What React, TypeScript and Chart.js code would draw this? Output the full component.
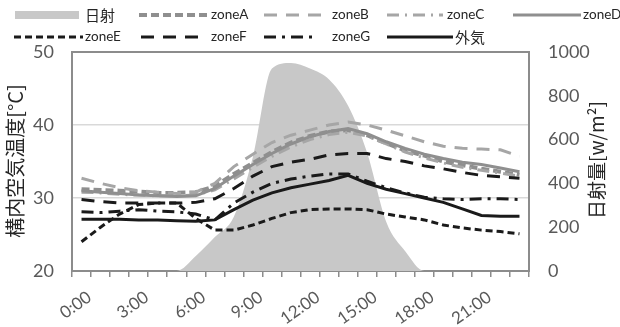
import React, { useEffect, useRef } from 'react';
import { Chart, registerables } from 'chart.js';

Chart.register(...registerables);

const hours = ['0:00','1:00','2:00','3:00','4:00','5:00','6:00','7:00','8:00','9:00','10:00','11:00','12:00','13:00','14:00','15:00','16:00','17:00','18:00','19:00','20:00','21:00','22:00','23:00'];
const solar = [0,0,0,0,0,0,68,155,248,520,925,950,925,875,755,540,225,90,0,0,0,0,0,0];
const zoneA = [31.2,31.1,31.0,30.9,30.7,30.7,30.8,31.6,33.3,34.8,36.3,37.6,38.5,39.1,39.3,38.6,37.5,36.5,35.8,35.0,34.5,34.0,33.6,33.2];
const zoneB = [32.7,32.0,31.4,31.0,30.8,30.6,30.8,32.0,34.3,36.0,37.6,38.6,39.3,40.0,40.4,40.0,39.3,38.5,37.7,37.1,36.8,36.7,36.6,35.7];
const zoneC = [30.8,30.7,30.5,30.4,30.3,30.3,30.4,31.1,32.6,34.2,35.7,37.0,38.0,38.7,39.0,38.5,37.4,36.3,35.5,34.8,34.2,33.8,33.4,33.0];
const zoneD = [31.0,30.8,30.6,30.4,30.3,30.2,30.3,31.3,33.0,34.6,36.1,37.4,38.4,39.1,39.5,38.8,37.7,36.8,36.0,35.4,34.9,34.6,34.1,33.6];
const zoneE = [24.0,26.0,27.8,29.1,29.3,29.3,27.2,25.6,25.6,26.3,27.2,28.0,28.4,28.5,28.5,28.4,27.8,27.4,27.0,26.3,25.9,25.6,25.4,25.1];
const zoneF = [29.8,29.5,29.3,29.3,29.3,29.3,29.4,29.9,31.3,33.0,34.3,34.9,35.3,35.9,36.1,36.1,35.4,35.0,34.4,34.0,33.5,33.1,32.9,32.7];
const zoneG = [28.1,28.0,28.2,28.4,28.2,28.1,27.8,27.0,29.3,30.8,32.0,32.6,33.0,33.3,33.3,32.3,31.4,30.7,30.1,29.9,29.8,29.9,29.9,29.8];
const outside = [27.1,27.1,27.1,27.0,27.0,26.9,26.8,27.0,28.4,29.7,30.7,31.4,31.9,32.4,33.1,32.0,31.2,30.6,30.0,29.4,28.5,27.6,27.5,27.5];

const seriesLabels = ['日射','zoneA','zoneB','zoneC','zoneD','zoneE','zoneF','zoneG','外気'];
const leftTitle = '構内空気温度[°C]';
const rightTitle = '日射量[w/m²]';

const LAT = 'Lato, "Noto Sans CJK JP", sans-serif';
const JP = '"Noto Sans CJK JP", Lato, sans-serif';
const TICK = '#595959';
const AXIS = '#8c8c8c';

const legendLayout = [
  { i: 0, x: 15, tx: 85, y: 15, w: 64 },
  { i: 1, x: 139, tx: 211, y: 15, w: 68 },
  { i: 2, x: 264, tx: 332, y: 15, w: 66 },
  { i: 3, x: 387, tx: 447, y: 15, w: 56 },
  { i: 4, x: 513, tx: 583, y: 15, w: 68 },
  { i: 5, x: 14, tx: 85, y: 37, w: 69 },
  { i: 6, x: 141, tx: 211, y: 37, w: 66 },
  { i: 7, x: 264, tx: 332, y: 37, w: 54 },
  { i: 8, x: 387, tx: 455, y: 37, w: 66 },
];

const decorPlugin = {
  id: 'decor',
  afterDraw(chart: any) {
    const ctx = chart.ctx;
    const dsets = chart.data.datasets;
    ctx.save();
    for (const it of legendLayout) {
      const ds = dsets[it.i];
      if (it.i === 0) {
        ctx.fillStyle = ds.backgroundColor;
        ctx.fillRect(it.x, it.y - 4, it.w, 8);
      } else {
        ctx.beginPath();
        ctx.setLineDash(ds.borderDash || []);
        ctx.lineWidth = ds.borderWidth;
        ctx.strokeStyle = ds.borderColor;
        ctx.moveTo(it.x, it.y);
        ctx.lineTo(it.x + it.w, it.y);
        ctx.stroke();
      }
      ctx.setLineDash([]);
      ctx.fillStyle = '#262626';
      ctx.font = (it.i === 0 || it.i === 8 ? '15px ' + JP : '13.5px ' + LAT);
      ctx.textBaseline = 'middle';
      ctx.textAlign = 'left';
      ctx.fillText(ds.label, it.tx, it.y);
    }
    ctx.fillStyle = '#262626';
    ctx.textAlign = 'center';
    ctx.textBaseline = 'middle';
    ctx.font = '20px ' + JP;
    ctx.save();
    ctx.translate(15, 161);
    ctx.rotate(-Math.PI / 2);
    ctx.fillText(leftTitle, 0, 0);
    ctx.restore();
    ctx.font = '19px ' + JP;
    ctx.save();
    ctx.translate(597, 160);
    ctx.rotate(-Math.PI / 2);
    ctx.fillText(rightTitle, 0, 0);
    ctx.restore();
    ctx.restore();
  },
};

function lineDs(label: string, data: number[], color: string, width: number, dash: number[], order: number) {
  return {
    type: 'line' as const,
    label,
    data,
    yAxisID: 'y',
    borderColor: color,
    borderWidth: width,
    borderDash: dash,
    pointRadius: 0,
    fill: false,
    tension: 0,
    order,
  };
}

export default function App() {
  const ref = useRef<HTMLCanvasElement>(null);
  useEffect(() => {
    if (!ref.current) return;
    const chart = new Chart(ref.current, {
      type: 'line',
      data: {
        labels: hours,
        datasets: [
          {
            type: 'line',
            label: seriesLabels[0],
            data: solar,
            yAxisID: 'y2',
            backgroundColor: '#c8c8c8',
            borderColor: 'rgba(0,0,0,0)',
            borderWidth: 0,
            pointRadius: 0,
            fill: 'origin',
            cubicInterpolationMode: 'monotone',
            order: 99,
          } as any,
          lineDs(seriesLabels[1], zoneA, '#8f8f8f', 4, [8, 4], 8),
          lineDs(seriesLabels[2], zoneB, '#a6a6a6', 3, [13, 9], 7),
          lineDs(seriesLabels[3], zoneC, '#a6a6a6', 3, [12, 6, 2, 6], 6),
          lineDs(seriesLabels[4], zoneD, '#8f8f8f', 3, [], 5),
          lineDs(seriesLabels[5], zoneE, '#1a1a1a', 3, [7, 4], 4),
          lineDs(seriesLabels[6], zoneF, '#1a1a1a', 3, [13, 9], 3),
          lineDs(seriesLabels[7], zoneG, '#1a1a1a', 3, [12, 6, 3, 6], 2),
          lineDs(seriesLabels[8], outside, '#1a1a1a', 3, [], 1),
        ],
      },
      options: {
        responsive: false,
        animation: false,
        devicePixelRatio: 1,
        layout: { padding: { top: 52, left: 0, right: 0, bottom: 0 } },
        plugins: { legend: { display: false }, tooltip: { enabled: false } },
        scales: {
          x: {
            type: 'category',
            offset: true,
            grid: { offset: true, drawOnChartArea: false, drawTicks: true, tickLength: 6, color: AXIS, lineWidth: 1.5 },
            border: { color: AXIS, width: 2 },
            ticks: {
              autoSkip: false,
              maxRotation: 35,
              minRotation: 35,
              padding: 10,
              labelOffset: 8,
              color: TICK,
              font: { family: LAT, size: 17 },
              callback: (_v: any, i: number) => (i % 3 === 0 ? hours[i] : ''),
            },
            afterFit: (s: any) => { s.height = 56; },
          },
          y: {
            position: 'left',
            min: 20,
            max: 50,
            ticks: { stepSize: 10, padding: 18, color: TICK, font: { family: LAT, size: 18 }, callback: (v: any) => String(v) },
            grid: {
              drawTicks: false,
              color: (c: any) => (c.tick && c.tick.value === 50 ? AXIS : c.tick && c.tick.value === 20 ? 'rgba(0,0,0,0)' : '#d9d9d9'),
              lineWidth: (c: any) => (c.tick && c.tick.value === 50 ? 2 : 1.5),
            },
            border: { color: AXIS, width: 2 },
            afterFit: (s: any) => { s.width = 72; },
          },
          y2: {
            position: 'right',
            min: 0,
            max: 1000,
            ticks: { stepSize: 200, padding: 19, color: TICK, font: { family: LAT, size: 18 }, callback: (v: any) => String(v) },
            grid: { drawOnChartArea: false, drawTicks: false },
            border: { color: AXIS, width: 2 },
            afterFit: (s: any) => { s.width = 91; },
          },
        },
      } as any,
      plugins: [decorPlugin],
    });
    return () => chart.destroy();
  }, []);
  return (
    <div style={{ position: 'fixed', left: 0, top: 0, width: 620, height: 327, background: '#fff' }}>
      <canvas ref={ref} width={620} height={327} />
    </div>
  );
}
